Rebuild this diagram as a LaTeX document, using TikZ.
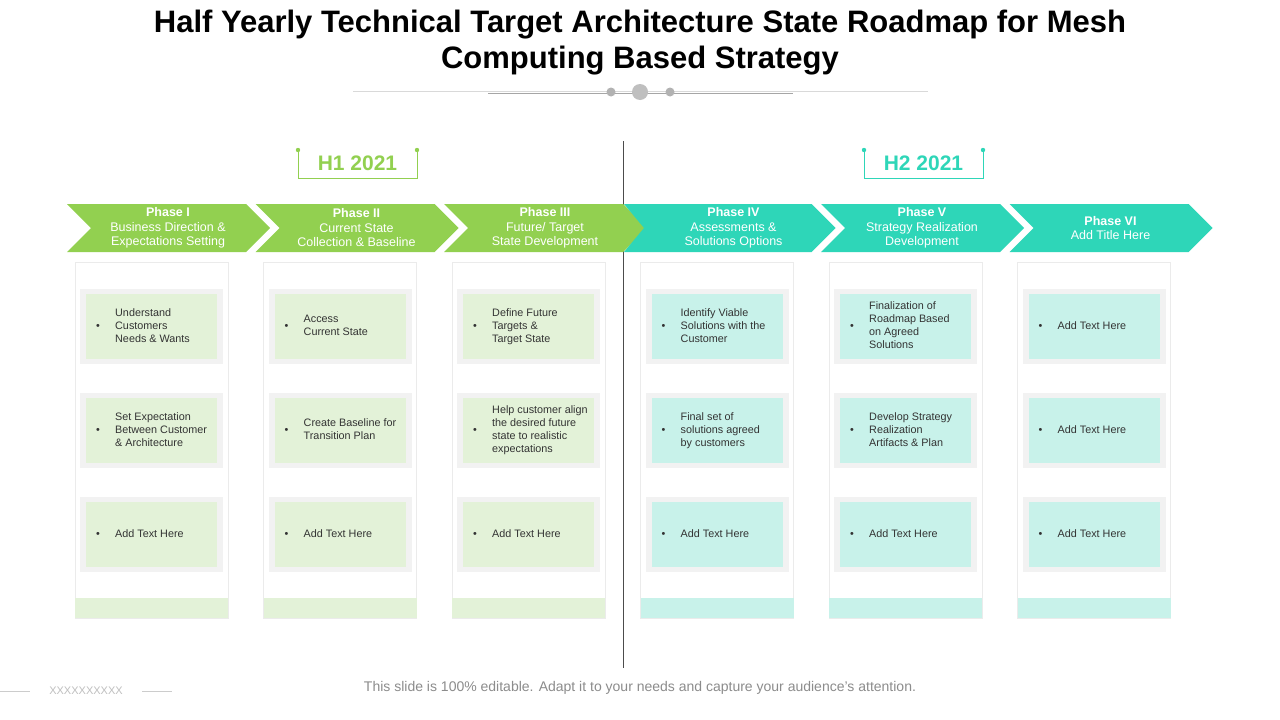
\documentclass[tikz,border=0pt]{standalone}
\usepackage{fontspec}
\setmainfont{Liberation Sans}
\definecolor{gr}{HTML}{92D050}
\definecolor{tl}{HTML}{2ED6B8}
\definecolor{lgr}{HTML}{E3F2D8}
\definecolor{ltl}{HTML}{C8F2EA}
\definecolor{frm}{HTML}{F2F2F2}
\definecolor{tc}{HTML}{333333}
\begin{document}
\begin{tikzpicture}[x=1pt,y=-1pt,
  ptext/.style={text=white,align=center,font=\fontsize{12.5}{14.5}\selectfont},
  btxt/.style={anchor=west,text=tc,align=left,font=\fontsize{10.8}{13}\selectfont,inner sep=0pt},
  hdr/.style={font=\bfseries\fontsize{21}{21}\selectfont}]
\useasboundingbox (0,0) rectangle (1280,720);
\fill[white] (0,0) rectangle (1280,720);
\node[font=\bfseries\fontsize{31}{36}\selectfont,align=center] (title) at (640,43) {Half Yearly Technical Target Architecture State Roadmap for Mesh\\Computing Based Strategy};
\draw[black!15] (353,91) -- (928,91);
\draw[black!35] (488,93) -- (793,93);
\fill[black!30] (611,92) circle (4.5) (670,92) circle (4.5);
\fill[black!25] (640,92) circle (8);
% divider
\draw[black!70] (623,141) -- (623,668);
% headers
\foreach \x/\c/\t in {298/gr/H1 2021, 864/tl/H2 2021}{
  \draw[\c] (\x,150) -- (\x,178) -- (\x+119,178) -- (\x+119,150);
  \fill[\c] (\x,150) circle (2.2) (\x+119,150) circle (2.2);
  \node[hdr,text=\c] at (\x+59.5,163) {\t};
}
% chevrons
\foreach \i/\c/\t in {0/gr/{\textbf{Phase I}\\Business Direction \&\\Expectations Setting},
  1/gr/{\textbf{Phase II}\\Current State\\Collection \& Baseline},
  2/gr/{\textbf{Phase III}\\Future/ Target\\State Development},
  3/tl/{\textbf{Phase IV}\\Assessments \&\\Solutions Options},
  4/tl/{\textbf{Phase V}\\Strategy Realization\\Development},
  5/tl/{\textbf{Phase VI}\\Add Title Here}}{
  \pgfmathsetmacro{\L}{67+188.5*\i}
  \ifnum\i=3
    \fill[\c] (624,204) -- (\L+179,204) -- (\L+203,228) -- (\L+179,252) -- (624,252) -- (624+20,228) -- cycle;
  \else
    \fill[\c] (\L,204) -- (\L+179,204) -- (\L+203,228) -- (\L+179,252) -- (\L,252) -- (\L+24,228) -- cycle;
  \fi
  \node[ptext] at ({67+188.5*\i+101},228) {\t};
}
% columns
\foreach \i/\c/\a/\b/\cc in {
 0/lgr/{Understand\\Customers\\Needs \& Wants}/{Set Expectation\\Between Customer\\\& Architecture}/{Add Text Here},
 1/lgr/{Access\\Current State}/{Create Baseline for\\Transition Plan}/{Add Text Here},
 2/lgr/{Define Future\\Targets \&\\Target State}/{Help customer align\\the desired future\\state to realistic\\expectations}/{Add Text Here},
 3/ltl/{Identify Viable\\Solutions with the\\Customer}/{Final set of\\solutions agreed\\by customers}/{Add Text Here},
 4/ltl/{Finalization of\\Roadmap Based\\on Agreed\\Solutions}/{Develop Strategy\\Realization\\Artifacts \& Plan}/{Add Text Here},
 5/ltl/{Add Text Here}/{Add Text Here}/{Add Text Here}}{
  \pgfmathsetmacro{\X}{75+188.5*\i}
  \draw[black!8,fill=white] (\X,262) rectangle (\X+153,618);
  \fill[\c] (\X,598) rectangle (\X+153,618);
  \foreach \r/\tx in {0/\a,1/\b,2/\cc}{
    \pgfmathsetmacro{\Y}{289+104*\r}
    \fill[frm] (\X+5,\Y) rectangle (\X+148,\Y+75);
    \fill[\c] (\X+11,\Y+5) rectangle (\X+142,\Y+70);
    \node[btxt] at (\X+21,\Y+37.5) {\makebox[19pt][l]{\textbullet}\begin{tabular}[c]{@{}l@{}}\tx\end{tabular}};
  }
}
% footer
\draw[black!20] (0,691) -- (30,691) (142,691) -- (172,691);
\node[text=black!25,font=\fontsize{11}{11}\selectfont] (xx) at (86,691) {XXXXXXXXXX};
\node[text=black!45,font=\fontsize{14}{14}\selectfont] (ft) at (640,688) {This slide is 100\% editable. Adapt it to your needs and capture your audience’s attention.};
\end{tikzpicture}
\end{document}
